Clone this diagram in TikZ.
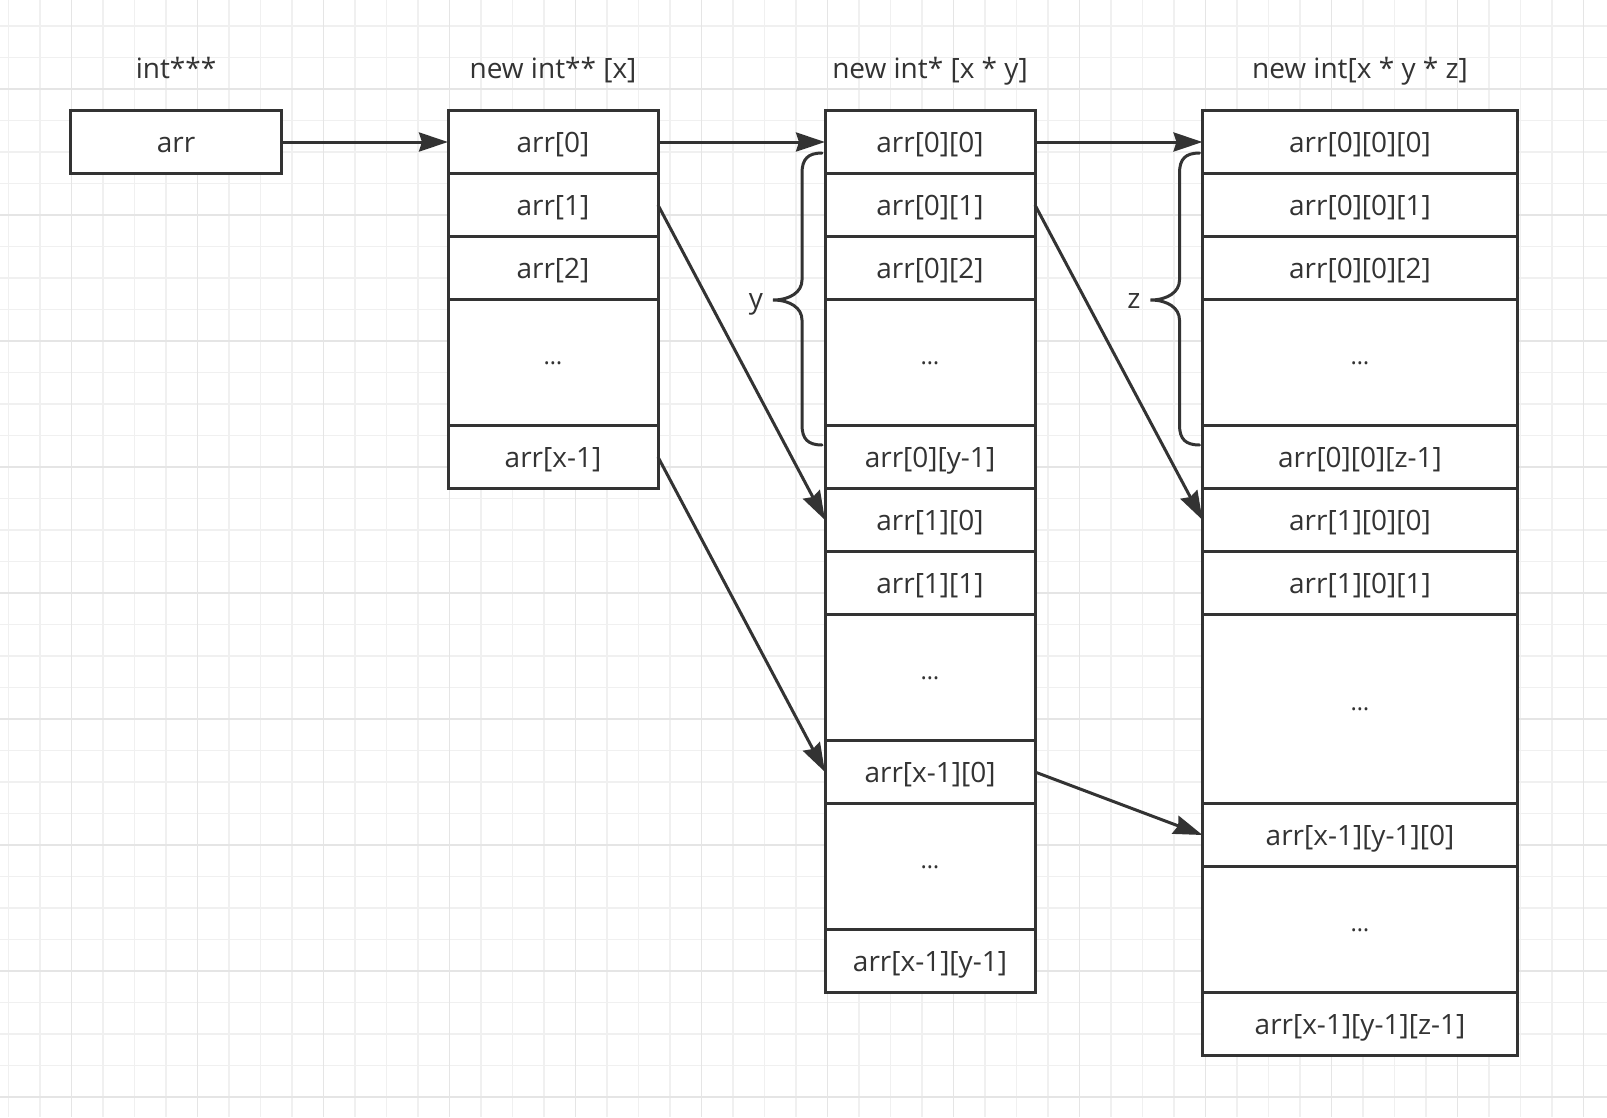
\documentclass[tikz,border=0pt]{standalone}
\usepackage{fontspec}
\setmainfont{Open Sans}
\usepackage{tikz}
\usetikzlibrary{arrows.meta,positioning}
\definecolor{arline}{RGB}{51,51,51}
\definecolor{gridlt}{RGB}{240,240,240}
\definecolor{griddk}{RGB}{229,229,229}
\newcommand{\celldots}{\raisebox{.32em}{\scalebox{.85}{\textellipsis}}}
\tikzset{
  cellbox/.style={draw=arline, line width=3pt, fill=white, text=arline, minimum width=210pt, minimum height=63pt, inner sep=0pt, outer sep=0pt, text height=28pt, text depth=6.7pt},
  headtxt/.style={text=arline, inner sep=0pt, outer sep=0pt, text height=28pt, text depth=6.7pt},
  ptrarr/.style={-{Stealth[length=29pt, width=19pt, inset=3pt]}, line width=3pt, draw=arline},
  bracepath/.style={line width=3pt, draw=arline, line cap=round}
}

\begin{document}
\begin{tikzpicture}[font=\fontsize{28}{34}\selectfont, x=1pt, y=-1pt]
  \useasboundingbox (0,0) rectangle (1607,1117);
  \fill[white] (0,0) rectangle (1607,1117);
  \foreach \i in {0,...,50} \draw[gridlt, line width=1.5pt] ({8.3+31.5*\i},0) -- ({8.3+31.5*\i},1117);
  \foreach \j in {0,...,34} \draw[gridlt, line width=1.5pt] (0,{26+31.5*\j}) -- (1607,{26+31.5*\j});
  \foreach \i in {2,6,...,50} \draw[griddk, line width=1.5pt] ({8.3+31.5*\i},0) -- ({8.3+31.5*\i},1117);
  \foreach \j in {2,6,...,34} \draw[griddk, line width=1.5pt] (0,{26+31.5*\j}) -- (1607,{26+31.5*\j});

  \node[cellbox, minimum width=211pt] (p) at (176,142) {arr};
  \node[headtxt, above=25pt of p] (ptitle) {int***};

  \node[cellbox] (a0) at (553,142) {arr[0]};
  \node[cellbox, below=0pt of a0] (a1) {arr[1]};
  \node[cellbox, below=0pt of a1] (a2) {arr[2]};
  \node[cellbox, below=0pt of a2, minimum height=126pt] (adots) {\celldots};
  \node[cellbox, below=0pt of adots] (ax) {arr[x-1]};
  \node[headtxt, above=25pt of a0] (atitle) {new int** [x]};

  \node[cellbox] (b00) at (930,142) {arr[0][0]};
  \node[cellbox, below=0pt of b00] (b01) {arr[0][1]};
  \node[cellbox, below=0pt of b01] (b02) {arr[0][2]};
  \node[cellbox, below=0pt of b02, minimum height=126pt] (bdots1) {\celldots};
  \node[cellbox, below=0pt of bdots1] (b0y) {arr[0][y-1]};
  \node[cellbox, below=0pt of b0y] (b10) {arr[1][0]};
  \node[cellbox, below=0pt of b10] (b11) {arr[1][1]};
  \node[cellbox, below=0pt of b11, minimum height=126pt] (bdots2) {\celldots};
  \node[cellbox, below=0pt of bdots2] (bx0) {arr[x-1][0]};
  \node[cellbox, below=0pt of bx0, minimum height=126pt] (bdots3) {\celldots};
  \node[cellbox, below=0pt of bdots3] (bxy) {arr[x-1][y-1]};
  \node[headtxt, above=25pt of b00] (btitle) {new int* [x * y]};

  \node[cellbox, minimum width=315pt] (c000) at (1360,142) {arr[0][0][0]};
  \node[cellbox, minimum width=315pt, below=0pt of c000] (c001) {arr[0][0][1]};
  \node[cellbox, minimum width=315pt, below=0pt of c001] (c002) {arr[0][0][2]};
  \node[cellbox, minimum width=315pt, below=0pt of c002, minimum height=126pt] (cdots1) {\celldots};
  \node[cellbox, minimum width=315pt, below=0pt of cdots1] (c00z) {arr[0][0][z-1]};
  \node[cellbox, minimum width=315pt, below=0pt of c00z] (c100) {arr[1][0][0]};
  \node[cellbox, minimum width=315pt, below=0pt of c100] (c101) {arr[1][0][1]};
  \node[cellbox, minimum width=315pt, below=0pt of c101, minimum height=189pt] (cdots2) {\celldots};
  \node[cellbox, minimum width=315pt, below=0pt of cdots2] (cxy0) {arr[x-1][y-1][0]};
  \node[cellbox, minimum width=315pt, below=0pt of cxy0, minimum height=126pt] (cdots3) {\celldots};
  \node[cellbox, minimum width=315pt, below=0pt of cdots3] (cxyz) {arr[x-1][y-1][z-1]};
  \node[headtxt, above=25pt of c000] (ctitle) {new int[x * y * z]};

  \draw[ptrarr] (p) -- (a0);
  \draw[ptrarr] (a0) -- (b00);
  \draw[ptrarr] (b00) -- (c000);
  \draw[ptrarr] (a1.east) -- (b10.west);
  \draw[ptrarr] (ax.east) -- (bx0.west);
  \draw[ptrarr] (b01.east) -- (c100.west);
  \draw[ptrarr] (bx0.east) -- (cxy0.west);

  \foreach \col/\dim in {b00/y, c000/z} {
    \begin{scope}[shift={(\col.west)}]
      \draw[bracepath] (-3,11) .. controls (-17,11) and (-23,17) .. (-23,31) -- (-23,138)
        .. controls (-23,150) and (-35,158) .. (-52,158) .. controls (-35,158) and (-23,166) .. (-23,178)
        -- (-23,283) .. controls (-23,297) and (-17,303) .. (-3,303);
      \node[headtxt, anchor=east] (brace\dim) at (-62,156) {\dim};
    \end{scope}
  }
\end{tikzpicture}
\end{document}
